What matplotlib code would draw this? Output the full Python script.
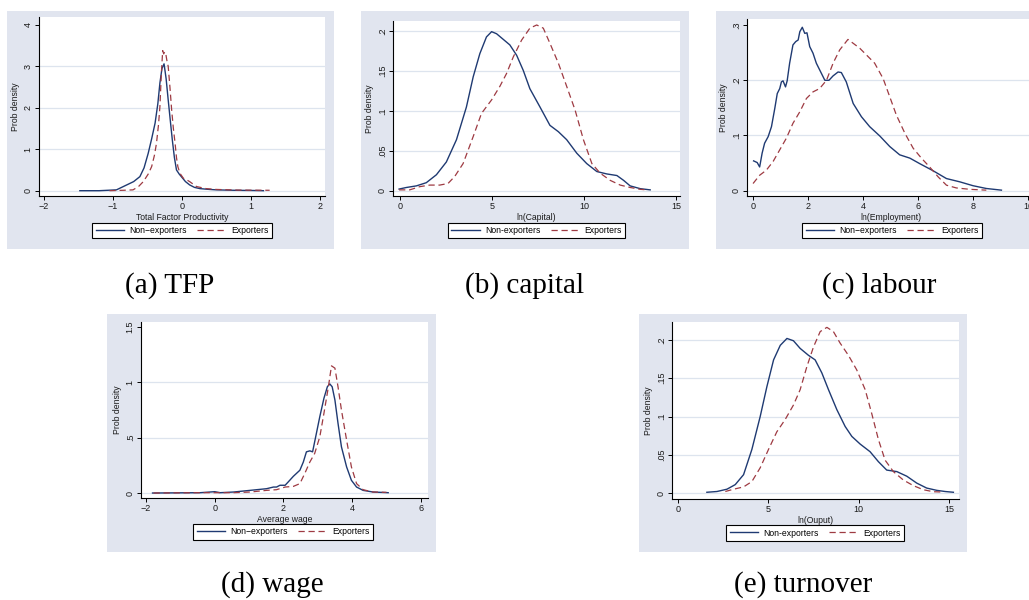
import matplotlib
matplotlib.use('Agg')
import matplotlib.pyplot as plt
from matplotlib.patches import Rectangle
from matplotlib.lines import Line2D

W, H = 1029, 600
plt.rcParams['font.family'] = ['Liberation Sans', 'DejaVu Sans']

# ---------------- data ----------------
# (a) TFP
tfp_non_x = [-1.48, -1.2, -0.95, -0.8, -0.7, -0.61, -0.55, -0.49, -0.44, -0.39, -0.35, -0.32, -0.29, -0.26, -0.23, -0.2, -0.17, -0.14, -0.11, -0.08, -0.04, -0.01, 0.05, 0.11, 0.18, 0.26, 0.4, 0.5, 0.75, 1.03, 1.18]
tfp_non_y = [0.0, 0.0, 0.02, 0.14, 0.22, 0.34, 0.55, 0.9, 1.25, 1.63, 2.1, 2.6, 2.95, 3.06, 2.7, 2.19, 1.7, 1.22, 0.8, 0.5, 0.4, 0.34, 0.22, 0.14, 0.08, 0.05, 0.03, 0.02, 0.01, 0.005, 0.0]
tfp_exp_x = [-1.05, -0.85, -0.71, -0.63, -0.56, -0.49, -0.44, -0.4, -0.37, -0.34, -0.32, -0.3, -0.28, -0.265, -0.25, -0.235, -0.22, -0.2, -0.175, -0.15, -0.125, -0.1, -0.08, -0.06, -0.03, 0.02, 0.07, 0.11, 0.21, 0.35, 0.5, 0.8, 1.27]
tfp_exp_y = [0.0, 0.01, 0.02, 0.1, 0.22, 0.4, 0.58, 0.85, 1.14, 1.6, 2.03, 2.8, 3.38, 3.3, 3.35, 3.3, 3.15, 3.0, 2.5, 1.95, 1.5, 1.14, 0.8, 0.58, 0.42, 0.3, 0.26, 0.22, 0.1, 0.05, 0.03, 0.015, 0.01]

# (b) capital
cap_non_x = [-0.05, 0.35, 0.89, 1.43, 1.98, 2.52, 3.07, 3.61, 3.98, 4.34, 4.7, 4.98, 5.25, 5.61, 5.97, 6.34, 6.7, 7.06, 7.61, 8.15, 8.61, 9.06, 9.61, 10.15, 10.7, 11.24, 11.79, 12.15, 12.51, 13.06, 13.6]
cap_non_y = [0.002, 0.004, 0.006, 0.01, 0.02, 0.036, 0.064, 0.105, 0.143, 0.172, 0.193, 0.1996, 0.197, 0.19, 0.183, 0.17, 0.151, 0.128, 0.105, 0.082, 0.074, 0.064, 0.047, 0.034, 0.024, 0.021, 0.019, 0.013, 0.006, 0.0025, 0.001]
cap_exp_x = [-0.05, 0.53, 1.07, 1.62, 2.16, 2.61, 2.98, 3.43, 3.98, 4.43, 4.98, 5.43, 5.79, 6.16, 6.61, 7.06, 7.43, 7.79, 8.15, 8.61, 9.06, 9.52, 9.97, 10.43, 10.88, 11.42, 11.97, 12.51, 13.06, 13.42]
cap_exp_y = [0.001, 0.001, 0.005, 0.007, 0.007, 0.009, 0.018, 0.034, 0.068, 0.097, 0.114, 0.131, 0.147, 0.168, 0.189, 0.204, 0.208, 0.204, 0.185, 0.16, 0.131, 0.101, 0.064, 0.034, 0.022, 0.013, 0.007, 0.004, 0.0017, 0.001]

# (c) labour
lab_non_x = [0.02, 0.15, 0.24, 0.33, 0.42, 0.55, 0.67, 0.79, 0.88, 0.97, 1.03, 1.09, 1.18, 1.24, 1.33, 1.45, 1.55, 1.64, 1.7, 1.79, 1.88, 1.96, 2.06, 2.18, 2.3, 2.42, 2.61, 2.76, 2.91, 3.09, 3.21, 3.39, 3.64, 3.94, 4.24, 4.61, 4.97, 5.33, 5.7, 6.06, 6.55, 7.03, 7.52, 8.0, 8.48, 9.03]
lab_non_y = [0.054, 0.051, 0.043, 0.068, 0.086, 0.098, 0.116, 0.149, 0.176, 0.185, 0.197, 0.199, 0.188, 0.199, 0.231, 0.264, 0.27, 0.273, 0.288, 0.296, 0.285, 0.286, 0.261, 0.249, 0.231, 0.219, 0.2, 0.2, 0.208, 0.215, 0.214, 0.197, 0.158, 0.134, 0.116, 0.099, 0.08, 0.065, 0.059, 0.049, 0.036, 0.022, 0.016, 0.009, 0.004, 0.001]
lab_exp_x = [0.0, 0.24, 0.48, 0.73, 0.97, 1.21, 1.45, 1.7, 1.94, 2.18, 2.42, 2.67, 2.91, 3.15, 3.45, 3.64, 3.88, 4.12, 4.42, 4.73, 4.97, 5.21, 5.52, 5.82, 6.12, 6.42, 6.73, 7.03, 7.39, 7.88, 8.48]
lab_exp_y = [0.013, 0.028, 0.037, 0.053, 0.074, 0.095, 0.122, 0.143, 0.167, 0.179, 0.185, 0.2, 0.231, 0.255, 0.274, 0.267, 0.258, 0.246, 0.231, 0.203, 0.17, 0.137, 0.104, 0.077, 0.059, 0.043, 0.025, 0.01, 0.005, 0.0025, 0.001]

# (d) wage
wag_non_x = [-1.81, -0.42, 0.0, 0.16, 0.55, 1.03, 1.51, 1.71, 1.8, 1.9, 2.05, 2.14, 2.29, 2.48, 2.58, 2.67, 2.77, 2.85, 2.96, 3.06, 3.18, 3.28, 3.35, 3.42, 3.5, 3.59, 3.69, 3.84, 3.98, 4.13, 4.32, 4.61, 5.05]
wag_non_y = [0.0, 0.003, 0.012, 0.003, 0.009, 0.024, 0.039, 0.054, 0.054, 0.07, 0.07, 0.1, 0.151, 0.206, 0.28, 0.372, 0.381, 0.372, 0.538, 0.69, 0.856, 0.96, 0.986, 0.96, 0.84, 0.63, 0.417, 0.236, 0.115, 0.054, 0.024, 0.009, 0.003]
wag_exp_x = [-1.78, -0.42, 0.55, 1.03, 1.51, 1.8, 2.05, 2.29, 2.48, 2.62, 2.77, 2.91, 3.06, 3.18, 3.31, 3.4, 3.5, 3.59, 3.69, 3.84, 3.98, 4.13, 4.32, 4.61, 5.0]
wag_exp_y = [0.0, 0.003, 0.003, 0.009, 0.024, 0.03, 0.054, 0.06, 0.085, 0.175, 0.28, 0.357, 0.508, 0.72, 0.96, 1.149, 1.128, 0.96, 0.75, 0.478, 0.236, 0.085, 0.03, 0.009, 0.006]

# (e) turnover
out_non_x = [1.6, 2.16, 2.71, 3.17, 3.63, 4.09, 4.55, 4.92, 5.29, 5.66, 6.03, 6.39, 6.76, 7.22, 7.59, 7.96, 8.33, 8.79, 9.25, 9.62, 10.08, 10.63, 11.09, 11.55, 12.11, 12.66, 13.21, 13.76, 14.32, 14.78, 15.24]
out_non_y = [0.001, 0.002, 0.005, 0.011, 0.024, 0.057, 0.1, 0.139, 0.174, 0.193, 0.202, 0.199, 0.189, 0.18, 0.174, 0.157, 0.135, 0.109, 0.087, 0.074, 0.064, 0.054, 0.041, 0.03, 0.028, 0.022, 0.013, 0.0065, 0.0035, 0.002, 0.001]
out_exp_x = [2.62, 3.08, 3.63, 4.09, 4.55, 5.01, 5.47, 5.93, 6.39, 6.76, 7.13, 7.5, 7.87, 8.24, 8.6, 8.97, 9.43, 9.89, 10.36, 10.72, 11.09, 11.46, 11.92, 12.47, 13.03, 13.58, 14.13, 14.69]
out_exp_y = [0.002, 0.005, 0.008, 0.015, 0.033, 0.057, 0.08, 0.096, 0.115, 0.135, 0.165, 0.191, 0.211, 0.2165, 0.211, 0.196, 0.18, 0.161, 0.135, 0.104, 0.07, 0.043, 0.028, 0.017, 0.0096, 0.0043, 0.0017, 0.0013]

# ticks / labels
tfp_xticks = [-2, -1, 0, 1, 2]
tfp_xlabels = ['\u22122', '\u22121', '0', '1', '2']
tfp_yticks = [0, 1, 2, 3, 4]
tfp_ylabels = ['0', '1', '2', '3', '4']

cap_xticks = [0, 5, 10, 15]
cap_xlabels = ['0', '5', '10', '15']
cap_yticks = [0, 0.05, 0.1, 0.15, 0.2]
cap_ylabels = ['0', '.05', '.1', '.15', '.2']

lab_xticks = [0, 2, 4, 6, 8, 10]
lab_xlabels = ['0', '2', '4', '6', '8', '10']
lab_yticks = [0, 0.1, 0.2, 0.3]
lab_ylabels = ['0', '.1', '.2', '.3']

wag_xticks = [-2, 0, 2, 4, 6]
wag_xlabels = ['\u22122', '0', '2', '4', '6']
wag_yticks = [0, 0.5, 1, 1.5]
wag_ylabels = ['0', '.5', '1', '1.5']

out_xticks = [0, 5, 10, 15]
out_xlabels = ['0', '5', '10', '15']
out_yticks = [0, 0.05, 0.1, 0.15, 0.2]
out_ylabels = ['0', '.05', '.1', '.15', '.2']

xtitles = ['Total Factor Productivity', 'ln(Capital)', 'ln(Employment)', 'Average wage', 'ln(Ouput)']
captions = ['(a) TFP', '(b) capital', '(c) labour', '(d) wage', '(e) turnover']
series_names = [['Non\u2212exporters', 'Exporters'], ['Non-exporters', 'Exporters'],
                ['Non\u2212exporters', 'Exporters'], ['Non\u2212exporters', 'Exporters'],
                ['Non-exporters', 'Exporters']]

# ---------------- layout (pixels) ----------------
GREY = '#e1e5ef'
GRID = '#dde4ee'
BLUE = '#1f3a72'
RED = '#9e3a42'

panels = [
    dict(grey=(7, 11, 334, 249), ax=(39, 17, 325, 196), xlim=(-2.072, 2.072), ylim=(-0.128, 4.19),
         nx=tfp_non_x, ny=tfp_non_y, ex=tfp_exp_x, ey=tfp_exp_y,
         xt=tfp_xticks, xl=tfp_xlabels, yt=tfp_yticks, yl=tfp_ylabels, grid=[0, 1, 2, 3],
         leg=(182, 230.5), cap=(170, 293)),
    dict(grey=(361, 11, 689, 249), ax=(393, 21, 680, 196), xlim=(-0.38, 15.22), ylim=(-0.0067, 0.213),
         nx=cap_non_x, ny=cap_non_y, ex=cap_exp_x, ey=cap_exp_y,
         xt=cap_xticks, xl=cap_xlabels, yt=cap_yticks, yl=cap_ylabels, grid=[0, 0.05, 0.1, 0.15, 0.2],
         leg=(536.5, 230.5), cap=(525, 293)),
    dict(grey=(716, 11, 1044, 249), ax=(747, 19, 1035, 196), xlim=(-0.22, 10.25), ylim=(-0.0096, 0.311),
         nx=lab_non_x, ny=lab_non_y, ex=lab_exp_x, ey=lab_exp_y,
         xt=lab_xticks, xl=lab_xlabels, yt=lab_yticks, yl=lab_ylabels, grid=[0, 0.1, 0.2],
         leg=(892, 230.5), cap=(879, 293)),
    dict(grey=(107, 314, 436, 552), ax=(141, 322, 428, 498), xlim=(-2.146, 6.21), ylim=(-0.045, 1.545),
         nx=wag_non_x, ny=wag_non_y, ex=wag_exp_x, ey=wag_exp_y,
         xt=wag_xticks, xl=wag_xlabels, yt=wag_yticks, yl=wag_ylabels, grid=[0, 0.5, 1],
         leg=(283, 532), cap=(272, 592)),
    dict(grey=(639, 314, 967, 552), ax=(672, 322, 959, 499), xlim=(-0.33, 15.55), ylim=(-0.0078, 0.2235),
         nx=out_non_x, ny=out_non_y, ex=out_exp_x, ey=out_exp_y,
         xt=out_xticks, xl=out_xlabels, yt=out_yticks, yl=out_ylabels, grid=[0, 0.05, 0.1, 0.15, 0.2],
         leg=(815, 533), cap=(803, 592)),
]

fig = plt.figure(figsize=(W / 100, H / 100), dpi=100)
fig.patch.set_facecolor('white')


def fbox(x0, y0, x1, y1):
    return [x0 / W, 1 - y1 / H, (x1 - x0) / W, (y1 - y0) / H]


for i, p in enumerate(panels):
    gx0, gy0, gx1, gy1 = p['grey']
    fig.add_artist(Rectangle((gx0 / W, 1 - gy1 / H), (gx1 - gx0) / W, (gy1 - gy0) / H,
                             transform=fig.transFigure, facecolor=GREY, edgecolor='none', zorder=0))
    ax = fig.add_axes(fbox(*p['ax']))
    ax.set_facecolor('white')
    for g in p['grid']:
        ax.axhline(g, color=GRID, lw=0.9, zorder=0)
    ax.plot(p['nx'], p['ny'], color=BLUE, lw=1.0, solid_joinstyle='round', zorder=3)
    ax.plot(p['ex'], p['ey'], color=RED, lw=0.9, linestyle=(0, (5, 3)), zorder=3)
    ax.set_xlim(*p['xlim'])
    ax.set_ylim(*p['ylim'])
    ax.set_xticks(p['xt'])
    ax.set_xticklabels(p['xl'])
    ax.set_yticks(p['yt'])
    ax.set_yticklabels(p['yl'], rotation=90, va='center')
    for s in ['top', 'right']:
        ax.spines[s].set_visible(False)
    for s in ['left', 'bottom']:
        ax.spines[s].set_linewidth(0.8)
        ax.spines[s].set_color('black')
    ax.tick_params(axis='both', direction='out', length=3, width=0.7, colors='black',
                   labelsize=6.5, pad=1.5, labelcolor='#1a1a1a')
    ax.set_xlabel(xtitles[i], fontsize=6.2, labelpad=1, color='#1a1a1a')
    ax.set_ylabel('Prob density', fontsize=6.2, labelpad=3, color='#1a1a1a')
    handles = [Line2D([], [], color=BLUE, lw=1.0),
               Line2D([], [], color=RED, lw=0.9, linestyle=(0, (5, 3)))]
    lx, ly = p['leg']
    leg = ax.legend(handles, series_names[i], loc='center', bbox_to_anchor=(lx / W, 1 - ly / H),
                    bbox_transform=fig.transFigure, ncol=2, frameon=True, fancybox=False,
                    fontsize=6.2, handlelength=3.3, handletextpad=0.6, columnspacing=1.2,
                    borderpad=0.4, borderaxespad=0, framealpha=1)
    leg.get_frame().set_edgecolor('black')
    leg.get_frame().set_linewidth(0.8)
    cx, cy = p['cap']
    fig.text(cx / W, 1 - cy / H, captions[i], family=['Liberation Serif', 'DejaVu Serif'],
             fontsize=21, ha='center', va='baseline')

fig.savefig('out.png', dpi=100)
